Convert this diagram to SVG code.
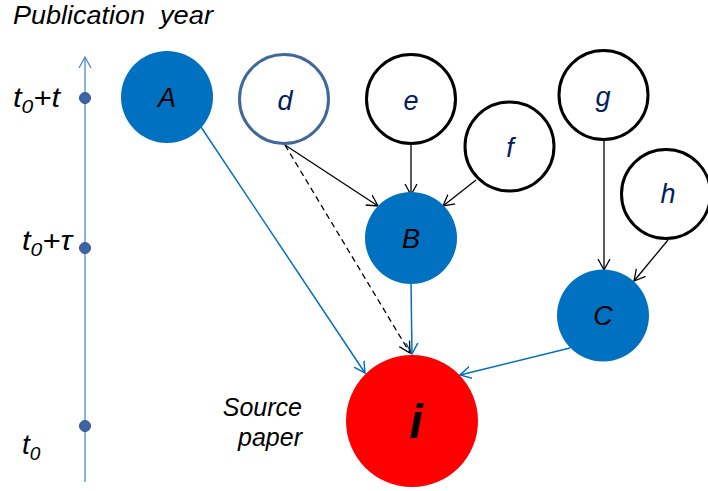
<svg xmlns="http://www.w3.org/2000/svg" width="708" height="491" viewBox="0 0 708 491">
<style>
text{font-family:"Liberation Sans",Arial,sans-serif;font-style:italic}
.lbl{font-size:27px;text-anchor:middle}
.dk{fill:#000}
.nv{fill:#002060}
.blue{fill:#0070c0}
.ring{fill:#fff;stroke:#000;stroke-width:3}
.bl{stroke:#0070c0;stroke-width:1.5;fill:none}
.bk{stroke:#000;stroke-width:1.3;fill:none}
.dot{fill:#3d64a0;stroke:#2f5597;stroke-width:1}
</style>
<defs>
<marker id="ab" markerUnits="userSpaceOnUse" markerWidth="14" markerHeight="14" refX="11" refY="6" orient="auto" viewBox="0 0 14 12">
<path d="M0,0 L11,6 L0,12" fill="none" stroke="#0070c0" stroke-width="1.5"/>
</marker>
<marker id="ak" markerUnits="userSpaceOnUse" markerWidth="14" markerHeight="14" refX="11" refY="6" orient="auto" viewBox="0 0 14 12">
<path d="M0,0 L11,6 L0,12" fill="none" stroke="#000" stroke-width="1.3"/>
</marker>
<marker id="aa" markerUnits="userSpaceOnUse" markerWidth="14" markerHeight="14" refX="11" refY="6" orient="auto" viewBox="0 0 14 12">
<path d="M0,0 L11,6 L0,12" fill="none" stroke="#4a8ad0" stroke-width="1.3"/>
</marker>
</defs>

<g id="axis">
<line x1="85" y1="482" x2="85" y2="57" stroke="#4a8ad0" stroke-width="1.3" marker-end="url(#aa)"/>
<circle class="dot" cx="85" cy="98" r="5.5"/>
<circle class="dot" cx="85" cy="248" r="5.5"/>
<circle class="dot" cx="85" cy="426" r="5.5"/>
<text x="13" y="24" font-size="26" textLength="132" lengthAdjust="spacingAndGlyphs">Publication</text>
<text x="160" y="24" font-size="26" textLength="53" lengthAdjust="spacingAndGlyphs">year</text>
<text x="13" y="107" font-size="28" textLength="47" lengthAdjust="spacingAndGlyphs">t<tspan dy="6" font-size="19">0</tspan><tspan dy="-6">+t</tspan></text>
<text x="22" y="250" font-size="28" textLength="50" lengthAdjust="spacingAndGlyphs">t<tspan dy="6" font-size="19">0</tspan><tspan dy="-6">+τ</tspan></text>
<text x="22" y="454" font-size="28">t<tspan dy="6" font-size="19">0</tspan></text>
<text x="302" y="416" font-size="25" text-anchor="end">Source</text>
<text x="302" y="446" font-size="25" text-anchor="end">paper</text>
</g>

<g id="connectors">
<line class="bl" x1="201" y1="127" x2="365" y2="373" marker-end="url(#ab)"/>
<line class="bl" x1="411" y1="282" x2="412" y2="354" marker-end="url(#ab)"/>
<line class="bl" x1="570" y1="348" x2="460" y2="375" marker-end="url(#ab)"/>
<line class="bk" x1="285" y1="145" x2="410" y2="353" stroke-dasharray="6,4" marker-end="url(#ak)"/>
<line class="bk" x1="285" y1="145" x2="378" y2="206" marker-end="url(#ak)"/>
<line class="bk" x1="411" y1="145" x2="411" y2="195" marker-end="url(#ak)"/>
<line class="bk" x1="476" y1="180" x2="443" y2="206" marker-end="url(#ak)"/>
<line class="bk" x1="604" y1="141" x2="604" y2="270" marker-end="url(#ak)"/>
<line class="bk" x1="668" y1="240" x2="634" y2="281" marker-end="url(#ak)"/>
</g>

<g id="node-A"><circle class="blue" cx="167" cy="97" r="46"/><text class="lbl dk" x="167" y="107">A</text></g>
<g id="node-d"><circle cx="284" cy="99" r="44.5" fill="#fff" stroke="#41689a" stroke-width="3"/><text class="lbl nv" x="285" y="110">d</text></g>
<g id="node-e"><circle class="ring" cx="411" cy="99" r="44.5"/><text class="lbl nv" x="411" y="110">e</text></g>
<g id="node-f"><circle class="ring" cx="509.5" cy="146.5" r="44.5"/><text class="lbl nv" x="510" y="157">f</text></g>
<g id="node-g"><circle class="ring" cx="603.5" cy="95" r="44.5"/><text class="lbl nv" x="603" y="106">g</text></g>
<g id="node-h"><circle class="ring" cx="666" cy="194" r="44.5"/><text class="lbl nv" x="668" y="203">h</text></g>
<g id="node-B"><circle class="blue" cx="411" cy="238" r="46"/><text class="lbl dk" x="411" y="248">B</text></g>
<g id="node-C"><circle class="blue" cx="603" cy="315.5" r="46"/><text class="lbl dk" x="603" y="325">C</text></g>
<g id="node-i"><circle cx="412" cy="421" r="66" fill="#ff0000"/><text x="416" y="438" font-size="48" font-weight="bold" text-anchor="middle" fill="#000">i</text></g>
</svg>
